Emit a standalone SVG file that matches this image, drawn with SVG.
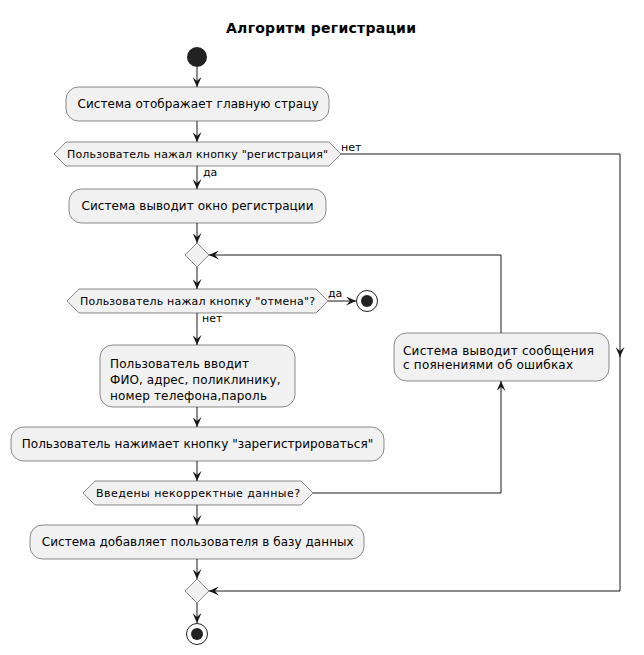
<svg xmlns="http://www.w3.org/2000/svg" width="644" height="655" viewBox="0 0 644 655">
<style>
.box{fill:#F1F1F1;stroke:#181818;stroke-width:0.5}
.ln{fill:none;stroke:#181818;stroke-width:1}
.arr{marker-end:url(#ah)}
text{font-family:"DejaVu Sans","Liberation Sans",sans-serif;fill:#000}
.t12{font-size:12px}
.t11{font-size:11px}
.ttl{font-size:14px;font-weight:bold}
</style>
<defs>
<marker id="ah" markerUnits="userSpaceOnUse" markerWidth="10" markerHeight="9" refX="10" refY="4.5" orient="auto" viewBox="0 0 10 9">
<path d="M0,0 L10,4.5 L0,9 L4,4.5 Z" fill="#181818"/>
</marker>
</defs>
<rect width="644" height="655" fill="#FFFFFF"/>
<text class="ttl" x="321" y="33" text-anchor="middle" textLength="190" lengthAdjust="spacing">Алгоритм регистрации</text>

<g id="connectors">
<line class="ln arr" x1="197" y1="67" x2="197" y2="87"/>
<line class="ln arr" x1="197" y1="121" x2="197" y2="142"/>
<polyline class="ln arr" points="341,154 620,154 620,357"/>
<polyline class="ln arr" points="620,355 620,591 209,591"/>
<line class="ln arr" x1="197" y1="166" x2="197" y2="189"/>
<line class="ln arr" x1="197" y1="223" x2="197" y2="243"/>
<line class="ln arr" x1="197" y1="267" x2="197" y2="289"/>
<line class="ln arr" x1="328" y1="301" x2="356" y2="301"/>
<line class="ln arr" x1="197" y1="313" x2="197" y2="345"/>
<line class="ln arr" x1="197" y1="407" x2="197" y2="427"/>
<line class="ln arr" x1="197" y1="461" x2="197" y2="481"/>
<polyline class="ln arr" points="313,493 501,493 501,381"/>
<polyline class="ln arr" points="501,333 501,255 209,255"/>
<line class="ln arr" x1="197" y1="505" x2="197" y2="525"/>
<line class="ln arr" x1="197" y1="559" x2="197" y2="579"/>
<line class="ln arr" x1="197" y1="603" x2="197" y2="623"/>
<text class="t11" x="341" y="151">нет</text>
<text class="t11" x="203" y="176">да</text>
<text class="t11" x="328" y="297">да</text>
<text class="t11" x="202" y="322">нет</text>
</g>

<g id="start"><circle cx="197" cy="57" r="10" fill="#222222"/></g>

<g id="a1">
<rect class="box" x="66" y="87" width="263" height="34" rx="12.5"/>
<text class="t12" x="77.5" y="108" textLength="241" lengthAdjust="spacing">Система отображает главную страцу</text>
</g>

<g id="d1">
<polygon class="box" points="66,142 329,142 341,154 329,166 66,166 54,154"/>
<text class="t11" x="67" y="158" textLength="261" lengthAdjust="spacing">Пользователь нажал кнопку "регистрация"</text>
</g>

<g id="a2">
<rect class="box" x="69" y="189" width="257" height="34" rx="12.5"/>
<text class="t12" x="81.5" y="210" textLength="232" lengthAdjust="spacing">Система выводит окно регистрации</text>
</g>

<g id="m1"><polygon class="box" points="197,243 209,255 197,267 185,255"/></g>

<g id="d2">
<polygon class="box" points="79,289 316,289 328,301 316,313 79,313 67,301"/>
<text class="t11" x="80" y="305" textLength="235" lengthAdjust="spacing">Пользователь нажал кнопку "отмена"?</text>
</g>

<g id="stop1">
<circle cx="367" cy="301" r="10.5" fill="#FFFFFF" stroke="#222222" stroke-width="1"/>
<circle cx="367" cy="301" r="6" fill="#222222"/>
</g>

<g id="a3">
<rect class="box" x="100" y="345" width="195" height="62" rx="12.5"/>
<text class="t12" x="110" y="368" textLength="139" lengthAdjust="spacing">Пользователь вводит</text>
<text class="t12" x="110" y="384" textLength="170.5" lengthAdjust="spacing">ФИО, адрес, поликлинику,</text>
<text class="t12" x="110" y="400" textLength="157" lengthAdjust="spacing">номер телефона,пароль</text>
</g>

<g id="a4">
<rect class="box" x="11" y="427" width="373" height="34" rx="12.5"/>
<text class="t12" x="21.7" y="448" textLength="351.6" lengthAdjust="spacing">Пользователь нажимает кнопку "зарегистрироваться"</text>
</g>

<g id="d3">
<polygon class="box" points="95,481 301,481 313,493 301,505 95,505 83,493"/>
<text class="t11" x="96" y="497" textLength="204" lengthAdjust="spacing">Введены некорректные данные?</text>
</g>

<g id="a6">
<rect class="box" x="394" y="333" width="215" height="48" rx="12.5"/>
<text class="t12" x="403" y="355" textLength="191" lengthAdjust="spacing">Система выводит сообщения</text>
<text class="t12" x="403" y="369" textLength="170" lengthAdjust="spacing">с поянениями об ошибках</text>
</g>

<g id="a5">
<rect class="box" x="30" y="525" width="334" height="34" rx="12.5"/>
<text class="t12" x="41.7" y="546" textLength="312" lengthAdjust="spacing">Система добавляет пользователя в базу данных</text>
</g>

<g id="m2"><polygon class="box" points="197,579 209,591 197,603 185,591"/></g>

<g id="stop2">
<circle cx="197" cy="634" r="10.5" fill="#FFFFFF" stroke="#222222" stroke-width="1"/>
<circle cx="197" cy="634" r="6" fill="#222222"/>
</g>
</svg>
